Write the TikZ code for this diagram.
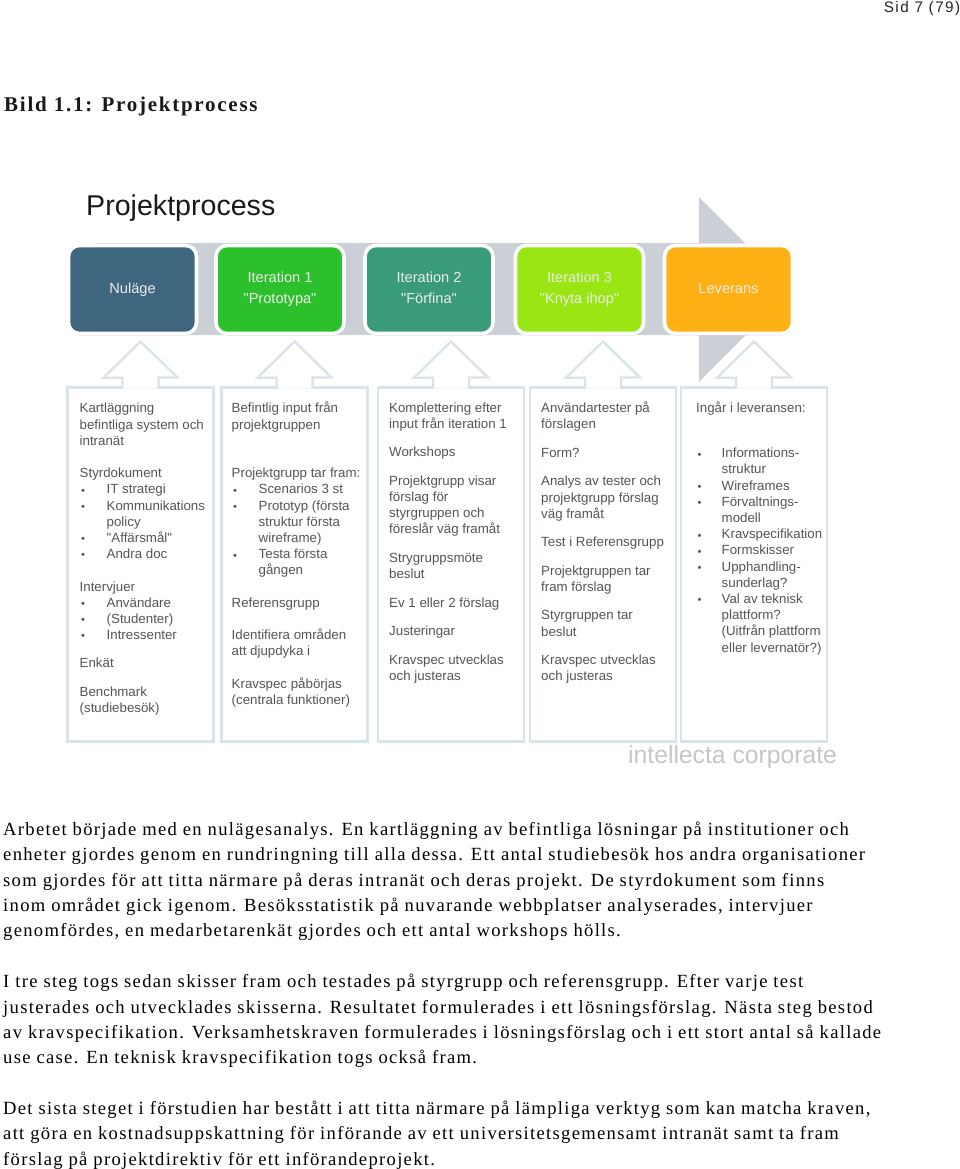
\documentclass[tikz,border=0pt]{standalone}
\usepackage{fontspec}
\setmainfont[Ligatures=TeXOff]{Liberation Sans}
\newfontfamily\bodyfont[LetterSpace=7.0]{Liberation Serif}
\newfontfamily\headfont[LetterSpace=8.3]{Liberation Serif}
\newfontfamily\sidfont[LetterSpace=9.5]{Liberation Sans}
\usetikzlibrary{calc,positioning,shadows}
\definecolor{BarGray}{HTML}{CBD0D6}
\definecolor{FrameBlue}{HTML}{D9E3EA}
\definecolor{SoftText}{HTML}{555555}
\definecolor{MarkGray}{HTML}{C6C6C6}
\definecolor{NulageBlue}{HTML}{3F667F}
\definecolor{IterGreen}{HTML}{2CC12C}
\definecolor{IterTeal}{HTML}{3A9B7B}
\definecolor{IterLime}{HTML}{9AE612}
\definecolor{LevOrange}{HTML}{FDB114}
\newcommand{\blt}[1][27pt]{\makebox[#1][l]{\hspace{1.5pt}\fontsize{11}{11}\selectfont\raisebox{-0.3pt}{•}}}
\newcommand{\ind}[1][27pt]{\hspace*{#1}}
\begin{document}
\begin{tikzpicture}[x=1pt,y=-1pt,
    procbox/.style={rounded corners=11pt,minimum width=128pt,minimum height=88pt,inner sep=0pt,outer sep=0pt,
                align=center,draw=white,line width=3.6pt,text=white!92!black,
                font=\fontsize{14.6}{21}\selectfont,drop shadow={shadow xshift=0.5pt,shadow yshift=-2pt,opacity=.3}},
    colbox/.style={draw=FrameBlue,line width=2.4pt,minimum width=146pt,minimum height=354pt,inner sep=0pt,outer sep=0pt},
    coltext/.style={anchor=north west,inner sep=0pt,align=left,text=SoftText,font=\fontsize{13.3}{16.2}\selectfont},
    bodytext/.style={anchor=north west,inner sep=0pt,align=left,text=black,font=\bodyfont\fontsize{18.6}{25.3}\selectfont}]
    \useasboundingbox (0,0) rectangle (960,1169);
    \fill[white] (0,0) rectangle (960,1169);
    \node[anchor=east,inner sep=0pt,font=\sidfont\fontsize{15.3}{16}\selectfont,text=black!85] (sid) at (960.5,9) {Sid 7 (79)};
    \node[anchor=west,inner sep=0pt,font=\headfont\bfseries\fontsize{21}{22}\selectfont,text=black!90] (bild) at (4,106) {Bild 1.1: Projektprocess};
    \node[anchor=west,inner sep=0pt,font=\fontsize{28.6}{32}\selectfont,text=black!90] (title) at (86,208.5) {Projektprocess};
    \fill[BarGray] (95,243) -- (699,243) -- (699,197) -- (791,289.5) -- (699,382) -- (699,335) -- (95,335) -- cycle;
    \node[procbox,fill=NulageBlue] (nulage) at (132.5,289.5) {Nuläge\vphantom{p}};
    \node[procbox,fill=IterGreen,right=19.5pt of nulage] (iter1) {Iteration 1\\"Prototypa"};
    \node[procbox,fill=IterTeal,right=21pt of iter1] (iter2) {Iteration 2\\"Förfina"\vphantom{p}};
    \node[procbox,fill=IterLime,right=22.5pt of iter2] (iter3) {Iteration 3\\"Knyta ihop"};
    \node[procbox,fill=LevOrange,right=21pt of iter3] (leverans) {Leverans\vphantom{p}};
    \node[colbox] (col1) at (140.5,564.5) {};
    \node[colbox,right=8pt of col1] (col2) {};
    \node[colbox,right=10.5pt of col2] (col3) {};
    \node[colbox,right=6pt of col3] (col4) {};
    \node[colbox,right=5pt of col4] (col5) {};
    \foreach \n in {col1,col2,col3,col4,col5} {
      \draw[FrameBlue,line width=2.4pt,fill=white] ($(\n.north)+(-18,1.2)$) -- ++(0,-11) -- ++(-19,0) -- ($(\n.north)+(0,-46)$)
        -- ($(\n.north)+(37,-10)$) -- ++(-19,0) -- ++(0,11);
    }
    \node[coltext] (txt1) at ($(col1.north west)+(12,15.5)$) {Kartläggning\\befintliga system och\\intranät\\[16.2pt]
      Styrdokument\\\blt IT strategi\\\blt Kommunikations\\\ind policy\\\blt "Affärsmål"\\\blt Andra doc\\[16.2pt]
      Intervjuer\\\blt Användare\\\blt (Studenter)\\\blt Intressenter\\[12pt]
      Enkät\\[12.5pt]
      Benchmark\\(studiebesök)};
    \node[coltext] (txt2) at ($(col2.north west)+(10,14.5)$) {Befintlig input från\\projektgruppen\\[32.4pt]
      Projektgrupp tar fram:\\\blt Scenarios 3 st\\\blt Prototyp (första\\\ind struktur första\\\ind wireframe)\\\blt Testa första\\\ind gången\\[16.2pt]
      Referensgrupp\\[16.2pt]
      Identifiera områden\\att djupdyka i\\[16.2pt]
      Kravspec påbörjas\\(centrala funktioner)};
    \node[coltext] (txt3) at ($(col3.north west)+(11,14.7)$) {Komplettering efter\\input från iteration 1\\[12.3pt]
      Workshops\\[12.3pt]
      Projektgrupp visar\\förslag för\\styrgruppen och\\föreslår väg framåt\\[12.3pt]
      Strygruppsmöte\\beslut\\[12.3pt]
      Ev 1 eller 2 förslag\\[12.3pt]
      Justeringar\\[12.3pt]
      Kravspec utvecklas\\och justeras};
    \node[coltext] (txt4) at ($(col4.north west)+(11,14.2)$) {Användartester på\\förslagen\\[12.3pt]
      Form?\\[12.3pt]
      Analys av tester och\\projektgrupp förslag\\väg framåt\\[12.3pt]
      Test i Referensgrupp\\[12.3pt]
      Projektgruppen tar\\fram förslag\\[12.3pt]
      Styrgruppen tar\\beslut\\[12.3pt]
      Kravspec utvecklas\\och justeras};
    \node[coltext] (txt5) at ($(col5.north west)+(15,14.5)$) {Ingår i leveransen:\\[28.6pt]
      \blt[25.5pt]Informations-\\\ind[25.5pt]struktur\\\blt[25.5pt]Wireframes\\
      \blt[25.5pt]Förvaltnings-\\\ind[25.5pt]modell\\\blt[25.5pt]Kravspecifikation\\
      \blt[25.5pt]Formskisser\\\blt[25.5pt]Upphandling-\\\ind[25.5pt]sunderlag?\\
      \blt[25.5pt]Val av teknisk\\\ind[25.5pt]plattform?\\\ind[25.5pt](Uitfrån plattform\\\ind[25.5pt]eller levernatör?)};
    \node[anchor=west,inner sep=0pt,text=MarkGray,font=\fontsize{24.7}{26}\selectfont] (mark) at (628,757) {intellecta corporate};
    \node[bodytext] (para1) at (3,822) {Arbetet började med en nulägesanalys. En kartläggning av befintliga lösningar på institutioner och\\
      enheter gjordes genom en rundringning till alla dessa. Ett antal studiebesök hos andra organisationer\\
      som gjordes för att titta närmare på deras intranät och deras projekt. De styrdokument som finns\\
      inom området gick igenom. Besöksstatistik på nuvarande webbplatser analyserades, intervjuer\\
      genomfördes, en medarbetarenkät gjordes och ett antal workshops hölls.};
    \node[bodytext,below=33pt of para1.south west,anchor=north west] (para2) {I tre steg togs sedan skisser fram och testades på styrgrupp och referensgrupp. Efter varje test\\
      justerades och utvecklades skisserna. Resultatet formulerades i ett lösningsförslag. Nästa steg bestod\\
      av kravspecifikation. Verksamhetskraven formulerades i lösningsförslag och i ett stort antal så kallade\\
      use case. En teknisk kravspecifikation togs också fram.};
    \node[bodytext,below=33pt of para2.south west,anchor=north west] (para3) {Det sista steget i förstudien har bestått i att titta närmare på lämpliga verktyg som kan matcha kraven,\\
      att göra en kostnadsuppskattning för införande av ett universitetsgemensamt intranät samt ta fram\\
      förslag på projektdirektiv för ett införandeprojekt.};
\end{tikzpicture}
\end{document}
